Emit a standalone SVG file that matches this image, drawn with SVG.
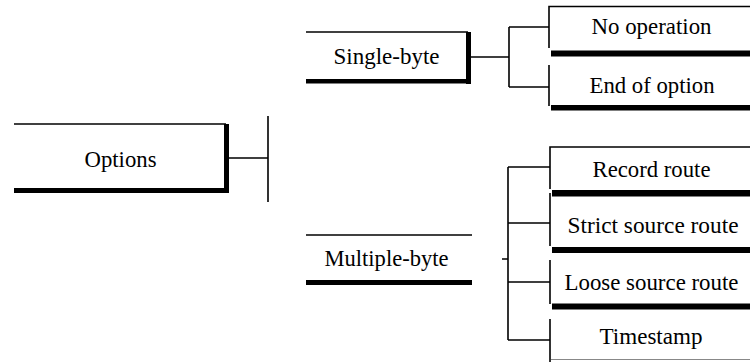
<svg xmlns="http://www.w3.org/2000/svg" width="750" height="362" viewBox="0 0 750 362">
<style>
text{font-family:'Liberation Serif',serif !important;font-size:23px;fill:#000}
.thin{stroke:#000;stroke-width:1.6;fill:none}
</style>
<rect width="750" height="362" fill="#fff"/>
<g id="connectors" class="thin">
<path d="M229,158 H268 M268,116 V202"/>
<path d="M471,57 H509 M509,27 V87 M509,27 H549 M509,87 H549"/>
<path d="M502,259 H508 M508,167 V340 M508,167 H550 M508,223 H550 M508,282 H550 M508,340 H550"/>
</g>
<g id="options">
<path class="thin" d="M14,124 H226"/>
<rect x="14" y="188" width="215" height="5"/>
<rect x="224" y="124" width="5" height="69"/>
<text x="84.5" y="167" font-family="Liberation Serif" textLength="72" lengthAdjust="spacingAndGlyphs">Options</text>
</g>
<g id="single-byte">
<path class="thin" d="M306,32 H468"/>
<rect x="306" y="79" width="165" height="4.5"/>
<rect x="466" y="32" width="5" height="52"/>
<text x="333.5" y="64" font-family="Liberation Serif" textLength="106" lengthAdjust="spacingAndGlyphs">Single-byte</text>
</g>
<g id="multiple-byte">
<path class="thin" d="M306,235 H472"/>
<rect x="306" y="280" width="166" height="5"/>
<text x="324.5" y="266" font-family="Liberation Serif" textLength="124" lengthAdjust="spacingAndGlyphs">Multiple-byte</text>
</g>
<g id="no-operation">
<path class="thin" d="M549,48 V6.5 H750"/>
<rect x="551" y="50.5" width="199" height="6"/>
<text x="591.5" y="34" font-family="Liberation Serif" textLength="120" lengthAdjust="spacingAndGlyphs">No operation</text>
</g>
<g id="end-of-option">
<path class="thin" d="M549,65 V106"/>
<rect x="551" y="105" width="199" height="5.5"/>
<text x="589.5" y="93" font-family="Liberation Serif" textLength="125" lengthAdjust="spacingAndGlyphs">End of option</text>
</g>
<g id="record-route">
<path class="thin" d="M550,189 V147 H750"/>
<rect x="552" y="190" width="198" height="6.5"/>
<text x="592.5" y="177" font-family="Liberation Serif" textLength="118" lengthAdjust="spacingAndGlyphs">Record route</text>
</g>
<g id="strict-source-route">
<path class="thin" d="M550,193 V246"/>
<rect x="552" y="247" width="198" height="6"/>
<text x="567.5" y="233" font-family="Liberation Serif" textLength="171" lengthAdjust="spacingAndGlyphs">Strict source route</text>
</g>
<g id="loose-source-route">
<path class="thin" d="M550,260 V304"/>
<rect x="552" y="303.5" width="198" height="6"/>
<text x="564.5" y="290" font-family="Liberation Serif" textLength="174" lengthAdjust="spacingAndGlyphs">Loose source route</text>
</g>
<g id="timestamp">
<path class="thin" d="M550,319 V362"/>
<path d="M551,359.5 H750" stroke="#888" stroke-width="1"/>
<text x="599.5" y="344" font-family="Liberation Serif" textLength="103" lengthAdjust="spacingAndGlyphs">Timestamp</text>
</g>
</svg>
